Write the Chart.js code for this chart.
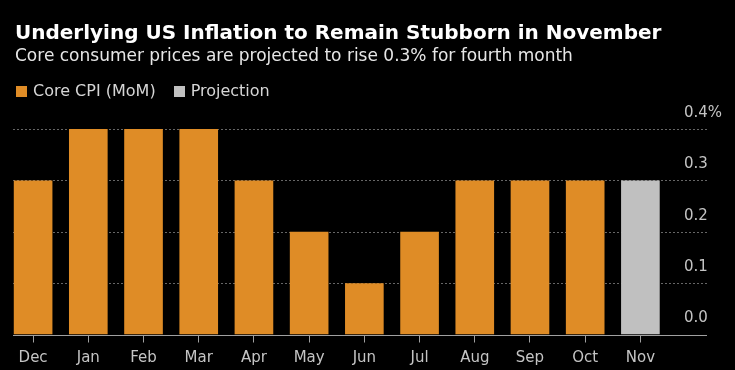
<!DOCTYPE html>
<html>
<head>
<meta charset="utf-8">
<script src="https://cdn.jsdelivr.net/npm/chart.js@4.4.0/dist/chart.umd.min.js"></script>
<style>
  body { margin: 0; background: #000; overflow: hidden; }
  .wrap { position: relative; width: 735px; height: 370px; }
  canvas { position: absolute; left: 0; top: 0; }
  .head { position: absolute; left: 15px; font-family: "DejaVu Sans", sans-serif; line-height: 1; white-space: nowrap; }
  .title { top: 22px; font-size: 20px; font-weight: bold; color: #fff; }
  .sub { top: 47px; font-size: 17px; color: #e6e6e6; }
  .legend { position: absolute; left: 16px; top: 83px; font-family: "DejaVu Sans", sans-serif; font-size: 16px; line-height: 1; color: #d6d6d6; white-space: nowrap; }
  .legend span.box { display: inline-block; width: 11px; height: 11px; margin-right: 6px; vertical-align: -1px; }
  .legend span.item { margin-right: 18px; }
</style>
</head>
<body>
<div class="wrap">
  <canvas id="chart" width="735" height="370"></canvas>
  <div class="head title">Underlying US Inflation to Remain Stubborn in November</div>
  <div class="head sub">Core consumer prices are projected to rise 0.3% for fourth month</div>
  <div class="legend" id="legend"></div>
</div>
<script>
// values (% month over month)
const months = ['Dec', 'Jan', 'Feb', 'Mar', 'Apr', 'May', 'Jun', 'Jul', 'Aug', 'Sep', 'Oct', 'Nov'];
const coreCpi = [0.3, 0.4, 0.4, 0.4, 0.3, 0.2, 0.1, 0.2, 0.3, 0.3, 0.3, null];
const projection = [null, null, null, null, null, null, null, null, null, null, null, 0.3];
const yTicks = [0, 0.1, 0.2, 0.3, 0.4];
const seriesNames = ['Core CPI (MoM)', 'Projection'];
const seriesColors = ['rgb(223, 140, 38)', 'rgb(192, 192, 192)'];

const tickFont = { family: '"DejaVu Sans", sans-serif', size: 15 };

// legend built from the series names/colours
document.getElementById('legend').innerHTML = seriesNames.map((name, i) =>
  '<span class="item"><span class="box" style="background:' + seriesColors[i] + '"></span>' + name + '</span>'
).join('');

// dotted grid + baseline across the full plot width
const gridPlugin = {
  id: 'bbgGrid',
  beforeDatasetsDraw(chart) {
    const { ctx, scales: { y } } = chart;
    ctx.save();
    ctx.strokeStyle = '#666';
    ctx.lineWidth = 1;
    ctx.setLineDash([2, 2]);
    yTicks.filter((v) => v > 0).forEach((v) => {
      const py = Math.round(y.getPixelForValue(v)) + 0.5;
      ctx.beginPath();
      ctx.moveTo(13, py);
      ctx.lineTo(707, py);
      ctx.stroke();
    });
    ctx.restore();
  },
  afterDatasetsDraw(chart) {
    const { ctx, scales: { y } } = chart;
    const py = Math.round(y.getPixelForValue(0)) + 0.5;
    ctx.save();
    ctx.strokeStyle = '#a0a0a0';
    ctx.lineWidth = 1;
    ctx.beginPath();
    ctx.moveTo(13, py);
    ctx.lineTo(707, py);
    ctx.stroke();
    ctx.restore();
  }
};

new Chart(document.getElementById('chart'), {
  type: 'bar',
  data: {
    labels: months,
    datasets: [
      { label: seriesNames[0], data: coreCpi, backgroundColor: seriesColors[0] },
      { label: seriesNames[1], data: projection, backgroundColor: seriesColors[1] },
    ],
  },
  options: {
    responsive: false,
    animation: false,
    barPercentage: 0.7,
    categoryPercentage: 1,
    layout: { padding: { left: 5.5, top: 129, right: 0, bottom: 0 } },
    plugins: {
      legend: { display: false },
      tooltip: { enabled: false },
    },
    scales: {
      x: {
        stacked: true,
        border: { display: false },
        grid: {
          display: true,
          drawOnChartArea: false,
          drawTicks: true,
          tickLength: 8,
          offset: false,
          color: '#a0a0a0',
        },
        ticks: {
          color: '#c4c4c4',
          font: tickFont,
          padding: 7,
          maxRotation: 0,
          autoSkip: false,
        },
        afterFit: (scale) => { scale.height = 35.5; },
      },
      y: {
        position: 'right',
        stacked: true,
        min: 0,
        max: 0.4,
        border: { display: false },
        grid: { display: false, drawTicks: false },
        ticks: {
          stepSize: 0.1,
          padding: 16,
          labelOffset: -16,
          color: '#c4c4c4',
          font: tickFont,
          callback: (v) => (v === 0.4 ? '0.4%' : v.toFixed(1)),
        },
        afterFit: (scale) => { scale.width = 67; },
      },
    },
  },
  plugins: [gridPlugin],
});
</script>
</body>
</html>
